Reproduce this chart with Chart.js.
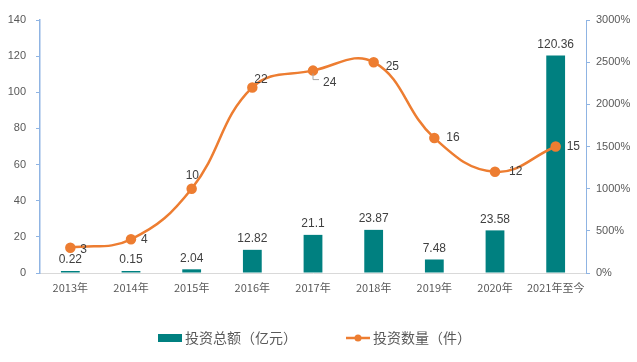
<!DOCTYPE html>
<html><head><meta charset="utf-8">
<script src="https://cdn.jsdelivr.net/npm/chart.js@4/dist/chart.umd.min.js"></script>
<style>html,body{margin:0;padding:0;background:#fff;}#wrap{width:637px;height:362px;position:relative;}</style>
</head><body><div id="wrap"><canvas id="c" width="637" height="362"></canvas></div>
<script>
const categories = ['2013年','2014年','2015年','2016年','2017年','2018年','2019年','2020年','2021年至今'];
const amounts = [0.22,0.15,2.04,12.82,21.1,23.87,7.48,23.58,120.36];
const counts = [3,4,10,22,24,25,16,12,15];
const leftTicks = [0,20,40,60,80,100,120,140];
const seriesNames = ['投资总额（亿元）','投资数量（件）'];

const FONT = "'Liberation Sans','Noto Sans CJK SC',sans-serif";
const CJK = "'Noto Sans CJK SC','Liberation Sans',sans-serif";
const TEAL = '#008080', ORANGE = '#ED7D31', AXIS = '#8FB4E3', TXT = '#595959', LBL = '#404040';

// label offsets for line points [dx, dy, align]
const lineLabelPos = [[10,2,'left'],[10,0,'left'],[-6,-13,'left'],[2,-8,'left'],[10,12,'left'],[12,5,'left'],[12,0,'left'],[14,0,'left'],[11,0,'left']];

const labelPlugin = {
  id:'labels',
  afterDatasetsDraw(chart){
    const ctx = chart.ctx;
    ctx.save();
    ctx.font = '12px '+FONT;
    ctx.fillStyle = LBL;
    const bm = chart.getDatasetMeta(0);
    bm.data.forEach((el,i)=>{
      ctx.textAlign='center'; ctx.textBaseline='bottom';
      ctx.fillText(String(chart.data.datasets[0].data[i]), el.x, el.y-5);
    });
    const lm = chart.getDatasetMeta(1);
    lm.data.forEach((el,i)=>{
      const p = lineLabelPos[i];
      if(i===4){
        ctx.strokeStyle='#A6A6A6'; ctx.lineWidth=1;
        ctx.beginPath(); ctx.moveTo(el.x,el.y+3); ctx.lineTo(el.x,el.y+9); ctx.lineTo(el.x+6,el.y+9); ctx.stroke();
      }
      ctx.textAlign=p[2]; ctx.textBaseline='middle';
      ctx.fillText(String(chart.data.datasets[1].data[i]), el.x+p[0], el.y+p[1]);
    });
    // legend
    const ly = 338;
    ctx.fillStyle = TEAL; ctx.fillRect(158, ly-4, 24, 8);
    ctx.font = '14px '+CJK; ctx.fillStyle = TXT; ctx.textAlign='left'; ctx.textBaseline='middle';
    ctx.fillText(seriesNames[0], 185, ly);
    ctx.strokeStyle = ORANGE; ctx.lineWidth = 2.5;
    ctx.beginPath(); ctx.moveTo(346, ly); ctx.lineTo(370, ly); ctx.stroke();
    ctx.fillStyle = ORANGE; ctx.beginPath(); ctx.arc(358, ly, 3.5, 0, Math.PI*2); ctx.fill();
    ctx.fillStyle = TXT; ctx.fillText(seriesNames[1], 373, ly);
    ctx.restore();
  }
};

new Chart(document.getElementById('c'), {
  data: {
    labels: categories,
    datasets: [
      {type:'bar', label:seriesNames[0], data:amounts, yAxisID:'y', backgroundColor:TEAL, barPercentage:0.31, categoryPercentage:1, minBarLength:2, order:2},
      {type:'line', label:seriesNames[1], data:counts, yAxisID:'y1', borderColor:ORANGE, backgroundColor:ORANGE, borderWidth:2.5, tension:0.42, pointRadius:4, pointHoverRadius:4, order:1}
    ]
  },
  options: {
    responsive:false, animation:false,
    layout:{padding:{top:20,bottom:50,left:0,right:0}},
    plugins:{legend:{display:false}, tooltip:{enabled:false}},
    scales:{
      x:{
        grid:{display:false, drawTicks:false},
        border:{color:'#D9D9D9'},
        ticks:{color:TXT, font:{size:11, family:CJK}, padding:8, maxRotation:0, autoSkip:false},
        afterFit(s){ s.height = 39; }
      },
      y:{
        position:'left', min:0, max:140,
        afterBuildTicks(s){ s.ticks = leftTicks.map(v=>({value:v})); },
        grid:{drawOnChartArea:false, drawTicks:true, tickLength:4, color:AXIS},
        border:{color:AXIS, width:1.5},
        ticks:{color:TXT, font:{size:11, family:FONT}, padding:10},
        afterFit(s){ s.width = 40; }
      },
      y1:{
        position:'right', min:0, max:30,
        grid:{drawOnChartArea:false, drawTicks:true, tickLength:4, color:AXIS},
        border:{color:AXIS, width:1},
        ticks:{stepSize:5, color:TXT, font:{size:11, family:FONT}, padding:6, callback:v=>(v*100)+'%'},
        afterFit(s){ s.width = 51; }
      }
    }
  },
  plugins:[labelPlugin]
});
</script></body></html>
